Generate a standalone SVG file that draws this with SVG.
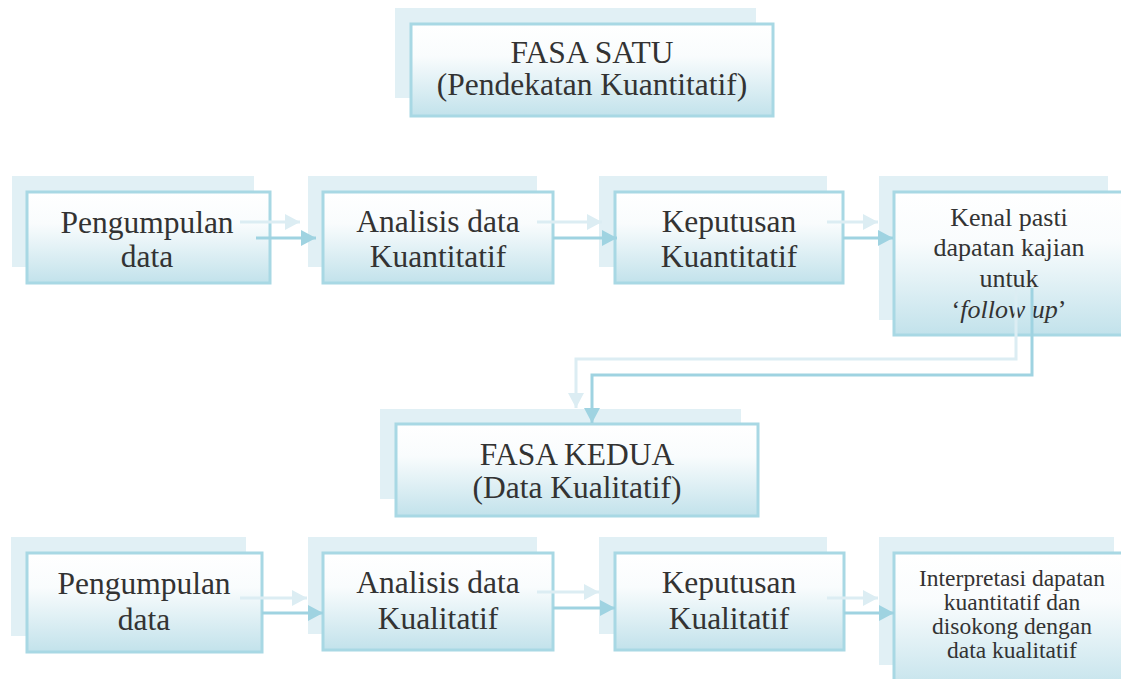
<svg xmlns="http://www.w3.org/2000/svg" width="1121" height="679" viewBox="0 0 1121 679">
<style>
.sh{fill:#e1f0f5;stroke:none}
.bx{fill:url(#g);stroke:#a8d8e4;stroke-width:3}
.t{font-family:"Liberation Serif","Times New Roman",serif;fill:#333;text-anchor:middle}
.big{font-size:31.5px}
.mid{font-size:26px}
.sm{font-size:23.5px}
.cf{fill:none;stroke:#dcedf3;stroke-width:3}
.cs{fill:none;stroke:#9fd3e1;stroke-width:3}
</style>
<defs>
<linearGradient id="g" x1="0" y1="0" x2="0" y2="1">
<stop offset="0" stop-color="#ffffff"/>
<stop offset="0.35" stop-color="#f9fcfd"/>
<stop offset="1" stop-color="#c2e2eb"/>
</linearGradient>
<marker id="af" markerUnits="userSpaceOnUse" markerWidth="16" markerHeight="16" refX="15" refY="8" orient="auto">
<path d="M0,0 L15,8 L0,16 Z" fill="#dcedf3"/>
</marker>
<marker id="as" markerUnits="userSpaceOnUse" markerWidth="16" markerHeight="16" refX="15" refY="8" orient="auto">
<path d="M0,0 L15,8 L0,16 Z" fill="#9fd3e1"/>
</marker>
</defs>

<g id="fasa-satu">
<rect class="sh" x="395" y="8" width="361" height="90"/>
<rect class="bx" x="411" y="24" width="362" height="92"/>
<text class="t big" x="592" y="63">FASA SATU</text>
<text class="t big" x="592" y="95">(Pendekatan Kuantitatif)</text>
</g>

<g id="r1-pengumpulan">
<rect class="sh" x="12" y="176" width="242" height="91"/>
<rect class="bx" x="27" y="192" width="243" height="91"/>
<text class="t big" x="147" y="233">Pengumpulan</text>
<text class="t big" x="147" y="267">data</text>
</g>

<g id="r1-analisis">
<rect class="sh" x="308" y="176" width="229" height="91"/>
<rect class="bx" x="323" y="192" width="230" height="91"/>
<text class="t big" x="438" y="232">Analisis data</text>
<text class="t big" x="438" y="267">Kuantitatif</text>
</g>

<g id="r1-keputusan">
<rect class="sh" x="599" y="176" width="228" height="91"/>
<rect class="bx" x="615" y="192" width="228" height="91"/>
<text class="t big" x="729" y="232">Keputusan</text>
<text class="t big" x="729" y="267">Kuantitatif</text>
</g>

<g id="r1-kenal">
<rect class="sh" x="879" y="176" width="229" height="144"/>
<rect class="bx" x="894" y="192" width="230" height="143"/>
<text class="t mid" x="1009" y="226">Kenal pasti</text>
<text class="t mid" x="1009" y="256">dapatan kajian</text>
<text class="t mid" x="1009" y="287">untuk</text>
<text class="t mid" x="1009" y="318">‘<tspan font-style="italic">follow up</tspan>’</text>
</g>

<g id="fasa-kedua">
<rect class="sh" x="380" y="409" width="361" height="90"/>
<rect class="bx" x="396" y="424" width="362" height="92"/>
<text class="t big" x="577" y="465">FASA KEDUA</text>
<text class="t big" x="577" y="498">(Data Kualitatif)</text>
</g>

<g id="r2-pengumpulan">
<rect class="sh" x="11" y="537" width="235" height="99"/>
<rect class="bx" x="27" y="553" width="235" height="99"/>
<text class="t big" x="144" y="594">Pengumpulan</text>
<text class="t big" x="144" y="630">data</text>
</g>

<g id="r2-analisis">
<rect class="sh" x="308" y="537" width="229" height="97"/>
<rect class="bx" x="323" y="553" width="230" height="97"/>
<text class="t big" x="438" y="593">Analisis data</text>
<text class="t big" x="438" y="629">Kualitatif</text>
</g>

<g id="r2-keputusan">
<rect class="sh" x="599" y="537" width="228" height="97"/>
<rect class="bx" x="615" y="553" width="229" height="97"/>
<text class="t big" x="729" y="593">Keputusan</text>
<text class="t big" x="729" y="629">Kualitatif</text>
</g>

<g id="r2-interpretasi">
<rect class="sh" x="879" y="537" width="235" height="128"/>
<rect class="bx" x="894" y="553" width="235" height="140"/>
<text class="t sm" x="1012" y="586">Interpretasi dapatan</text>
<text class="t sm" x="1012" y="610">kuantitatif dan</text>
<text class="t sm" x="1012" y="634">disokong dengan</text>
<text class="t sm" x="1012" y="658">data kualitatif</text>
</g>

<g id="connectors">
<path class="cf" marker-end="url(#af)" d="M240,222 H300"/>
<path class="cf" marker-end="url(#af)" d="M537,222 H602"/>
<path class="cf" marker-end="url(#af)" d="M827,222 H878"/>
<path class="cf" marker-end="url(#af)" d="M1016,287 V359 H576 V408"/>
<path class="cf" marker-end="url(#af)" d="M240,598 H307"/>
<path class="cf" marker-end="url(#af)" d="M537,592 H599"/>
<path class="cf" marker-end="url(#af)" d="M827,598 H878"/>

<path class="cs" marker-end="url(#as)" d="M256,238 H316"/>
<path class="cs" marker-end="url(#as)" d="M553,238 H617"/>
<path class="cs" marker-end="url(#as)" d="M843,238 H893"/>
<path class="cs" marker-end="url(#as)" d="M1032,288 V375 H592 V423"/>
<path class="cs" marker-end="url(#as)" d="M262,613 H323"/>
<path class="cs" marker-end="url(#as)" d="M553,608 H615"/>
<path class="cs" marker-end="url(#as)" d="M844,613 H894"/>
</g>
</svg>
